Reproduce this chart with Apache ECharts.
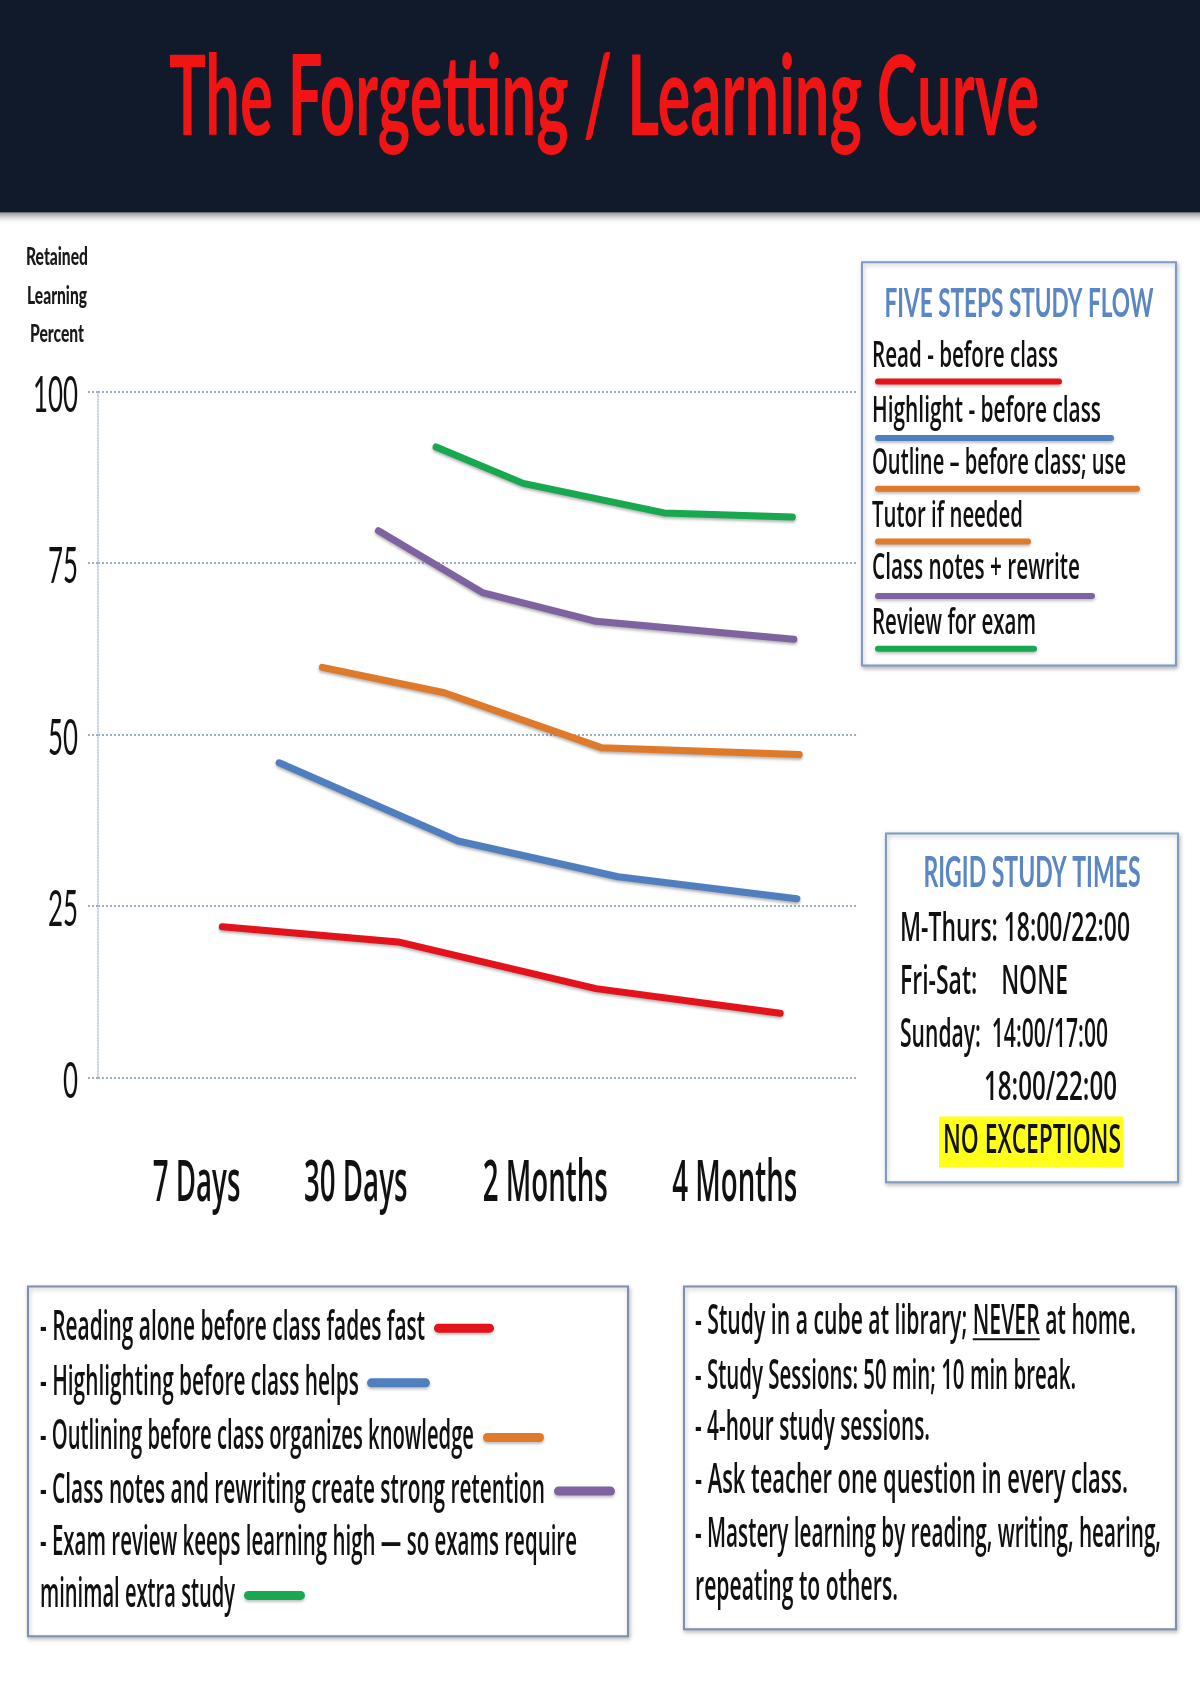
<!DOCTYPE html>
<html><head><meta charset="utf-8">
<script src="https://cdn.jsdelivr.net/npm/echarts@6/dist/echarts.min.js"></script>
<style>html,body{margin:0;padding:0;background:#fff}#c{width:1200px;height:1700px}</style>
</head><body><div id="c"></div>
<script>
// ---------------- DATA ----------------
const chartTitle = 'The Forgetting / Learning Curve';
const yAxisTitle = ['Retained', 'Learning', 'Percent'];
const yTickValues = [0, 25, 50, 75, 100];
const xTickLabels = ['7 Days', '30 Days', '2 Months', '4 Months'];
const xTickValues = [13, 34, 59, 84];           // position on the timeline (0-100)

const seriesNames = ['Read', 'Highlight', 'Outline', 'Class notes', 'Exam review'];
const readX = [16.4, 39.6, 65.7, 90.0];
const readY = [22.0, 19.8, 13.0, 9.4];
const highlightX = [23.9, 47.5, 68.6, 92.2];
const highlightY = [45.9, 34.5, 29.3, 26.1];
const outlineX = [29.6, 45.7, 66.4, 92.5];
const outlineY = [59.8, 56.1, 48.1, 47.1];
const notesX = [37.0, 50.7, 65.7, 91.8];
const notesY = [79.7, 70.7, 66.5, 63.9];
const reviewX = [44.6, 56.1, 74.7, 91.6];
const reviewY = [91.9, 86.6, 82.3, 81.7];

const fiveStepsTitle = 'FIVE STEPS STUDY FLOW';
const fiveSteps = ['Read - before class', 'Highlight - before class', 'Outline \u2013 before class; use',
                   'Tutor if needed', 'Class notes + rewrite', 'Review for exam'];
const rigidTitle = 'RIGID STUDY TIMES';
const rigidLines = ['M-Thurs: 18:00/22:00', 'Fri-Sat:    NONE', 'Sunday:  14:00/17:00', '18:00/22:00'];
const rigidNote = 'NO EXCEPTIONS';
const notesLeft = ['- Reading alone before class fades fast', '- Highlighting before class helps',
                   '- Outlining before class organizes knowledge', '- Class notes and rewriting create strong retention',
                   '- Exam review keeps learning high \u2014 so exams require', 'minimal extra study'];
const notesRight = ['- Study in a cube at library; NEVER at home.', '- Study Sessions: 50 min; 10 min break.',
                    '- 4-hour study sessions.', '- Ask teacher one question in every class.',
                    '- Mastery learning by reading, writing, hearing,', 'repeating to others.'];

// ---------------- STYLE / LAYOUT ----------------
const C = {red:'#e3121b', blue:'#4f7fbf', orange:'#df7a2a', purple:'#7f63a1', green:'#18a84f'};
const seriesColors = [C.red, C.blue, C.orange, C.purple, C.green];
const HAND = '"Open Sans", "Noto Sans", sans-serif';
const CAL = 'Lato, "Open Sans", sans-serif';
const HW = '600';
const SY = 0.9934;                 // vertical layout factor
const Y = v => v * SY;

const mctx = document.createElement('canvas').getContext('2d');
function measure(text, size, family, weight) {
  mctx.font = `${weight} ${size}px ${family}`;
  return mctx.measureText(text).width;
}
function txt(text, x, y, w, size, family, weight, color, align, extra) {
  const nat = measure(text, size, family, weight);
  const sx = w / nat;
  return {
    type: 'text', x: x, y: y, scaleX: sx, z: 100, silent: true,
    style: Object.assign({
      text: text, fontSize: size, fontFamily: family, fontWeight: weight, fill: color,
      align: align || 'left', textAlign: align || 'left',
      verticalAlign: 'middle', textVerticalAlign: 'middle'
    }, (extra || {}))
  };
}
function bar(x1, x2, y, h, color) {
  return {type:'rect', z: 90, silent:true, shape:{x:x1, y:y - h/2, width:x2 - x1, height:h, r: h/2},
    style:{fill:color, shadowBlur:3, shadowColor:'rgba(0,0,0,0.25)', shadowOffsetY:2}};
}
function box(x, y, w, h, color) {
  return {type:'rect', z: 80, silent:true, shape:{x:x, y:y, width:w, height:h},
    style:{fill:'#ffffff', stroke:color, lineWidth:2, shadowBlur:4, shadowColor:'rgba(0,0,0,0.25)', shadowOffsetX:1, shadowOffsetY:2}};
}

function zip(xs, ys) { return xs.map((v, i) => [v, ys[i]]); }
const seriesData = [zip(readX, readY), zip(highlightX, highlightY), zip(outlineX, outlineY),
                    zip(notesX, notesY), zip(reviewX, reviewY)];

const chart = echarts.init(document.getElementById('c'), null, {renderer:'canvas'});

const gridLineColor = '#9eaccb';
const option = {
  backgroundColor: '#ffffff',
  animation: false,
  grid: {left: 98, right: 344, top: Y(394), bottom: 1700 - Y(1085)},
  xAxis: {type:'value', min:0, max:100, axisLine:{show:false}, axisTick:{show:false},
          axisLabel:{show:false}, splitLine:{show:false}},
  yAxis: {type:'value', min:0, max:100, interval:25,
          axisLine:{show:true, lineStyle:{color:'#b9c6de', type:'dotted', width:1.5}},
          axisTick:{show:true, length:12, lineStyle:{color:gridLineColor, type:'dotted', width:2}},
          axisLabel:{show:false},
          splitLine:{show:true, lineStyle:{color:gridLineColor, type:'dotted', width:2}}},
  series: seriesData.map((d, i) => ({
    name: seriesNames[i], type:'line', data:d, symbol:'none', smooth:false, z: 5,
    lineStyle:{color:seriesColors[i], width:7, cap:'round', join:'round',
               shadowBlur:3, shadowColor:'rgba(0,0,0,0.3)', shadowOffsetY:2}
  }))
};
chart.setOption(option);

// ---------------- GRAPHIC TEXT / DECORATION ----------------
const g = [];
// header band
g.push({type:'rect', z:60, silent:true, shape:{x:0, y:0, width:1200, height:Y(214)}, style:{fill:'#111a2b'}});
g.push({type:'rect', z:59, silent:true, shape:{x:0, y:Y(214), width:1200, height:12},
  style:{fill:new echarts.graphic.LinearGradient(0,0,0,1,[{offset:0,color:'rgba(60,60,60,0.55)'},{offset:1,color:'rgba(255,255,255,0)'}])}});
g.push(txt(chartTitle, 604, Y(100), 870, 112, CAL, 'bold', '#f01414', 'center',
  {shadowBlur:4, shadowColor:'rgba(120,0,0,0.6)', shadowOffsetY:2}));

// y axis title
const ytW = [62, 60, 54], ytY = [259, 298, 336];
yAxisTitle.forEach((t, i) => g.push(txt(t, 57, Y(ytY[i]), ytW[i], 25, CAL, '900', '#1a1a1a', 'center')));

// y tick labels via the axis scale
const ySx = 45 / measure('100', 50, CAL, 'normal');
yTickValues.forEach(v => {
  const p = chart.convertToPixel({gridIndex:0}, [0, v]);
  const t = String(v);
  g.push(txt(t, 78, p[1] + 4, measure(t, 50, CAL, 'normal') * ySx, 50, CAL, 'normal', '#111', 'right'));
});
// x tick labels via the axis scale
const xSx = 125 / measure('2 Months', 58, HAND, HW);
xTickValues.forEach((v, i) => {
  const p = chart.convertToPixel({gridIndex:0}, [v, 0]);
  const t = xTickLabels[i];
  g.push(txt(t, p[0], Y(1192), measure(t, 58, HAND, HW) * xSx, 58, HAND, HW, '#111', 'center'));
});

// Five steps box
g.push(box(862, Y(264), 314, Y(670) - Y(264), '#7d9bc1'));
g.push(txt(fiveStepsTitle, 1019, Y(306), 269, 40, CAL, 'bold', '#5a86c4', 'center'));
const fsW = [186, 229, 254, 151, 208, 164];
const fsY = [359, 414, 467, 520, 573, 628];
const fsLineEnd = [1062, 1114, 1140, 1031, 1095, 1037];
const fsLineY = [384, 441, 492, 545, 600, 653];
const fsColors = [C.red, C.blue, C.orange, C.orange, C.purple, C.green];
fiveSteps.forEach((t, i) => {
  g.push(bar(875, fsLineEnd[i], Y(fsLineY[i]), 6, fsColors[i]));
  g.push(txt(t, 872, Y(fsY[i]), fsW[i], 36, HAND, HW, '#111', 'left'));
});

// Rigid study times box
g.push(box(886, Y(839), 292, Y(1190) - Y(839), '#7d9bc1'));
g.push(txt(rigidTitle, 1032, Y(879), 217, 42, CAL, 'bold', '#5a86c4', 'center'));
const rgX = [900, 900, 900, 984], rgY = [936, 989, 1042, 1096], rgW = [230, 168, 208, 133];
rigidLines.forEach((t, i) => g.push(txt(t, rgX[i], Y(rgY[i]), rgW[i], 40, HAND, HW, '#111', 'left')));
g.push({type:'rect', z:90, silent:true, shape:{x:939, y:Y(1124), width:184, height:51}, style:{fill:'#ffff19'}});
g.push(txt(rigidNote, 943, Y(1149), 178, 40, HAND, HW, '#111', 'left'));

// bottom-left box
g.push(box(28, Y(1295), 600, Y(1647) - Y(1295), '#7d8fae'));
const blY = [1337, 1392, 1447, 1501, 1553, 1606];
const blW = [385, 319, 434, 505, 537, 195];
const blSw = [[434, 494], [367, 430], [483, 544], [554, 615], null, [244, 305]];
const blSwC = [C.red, C.blue, C.orange, C.purple, null, C.green];
notesLeft.forEach((t, i) => {
  g.push(txt(t, 40, Y(blY[i]), blW[i], 42, HAND, HW, '#111', 'left'));
  if (blSw[i]) g.push(bar(blSw[i][0], blSw[i][1], Y(blY[i]), 9, blSwC[i]));
});

// bottom-right box
g.push(box(684, Y(1295), 492, Y(1640) - Y(1295), '#7d8fae'));
const brY = [1331, 1386, 1438, 1491, 1545, 1599];
const brW = [441, 381, 235, 433, 466, 203];
notesRight.forEach((t, i) => {
  const el = txt(t, 695, Y(brY[i]), brW[i], 42, HAND, HW, '#111', 'left');
  g.push(el);
  if (i === 0) {
    const pre = '- Study in a cube at library; ';
    const x1 = 695 + measure(pre, 42, HAND, HW) * el.scaleX;
    const x2 = x1 + measure('NEVER', 42, HAND, HW) * el.scaleX;
    g.push({type:'line', z:101, silent:true, shape:{x1:x1, y1:Y(brY[i]) + 17, x2:x2, y2:Y(brY[i]) + 17},
            style:{stroke:'#111', lineWidth:2}});
  }
});

chart.setOption({graphic: {elements: g}});
</script>
</body></html>
